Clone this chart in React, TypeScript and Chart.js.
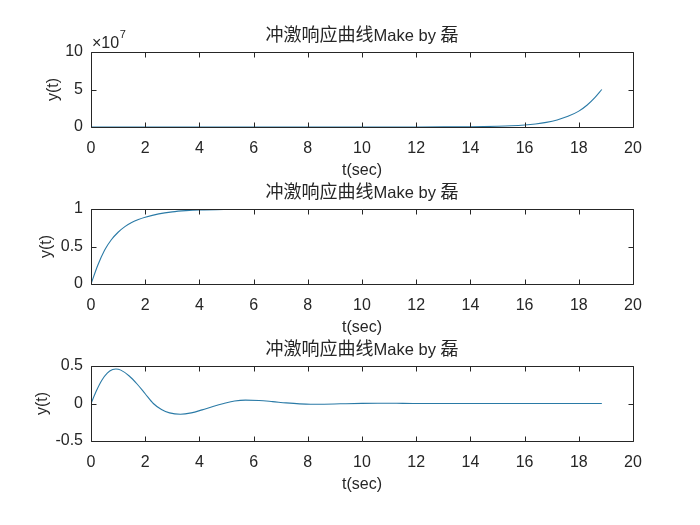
import React, { useEffect, useRef } from "react";
import { Chart, registerables } from "chart.js";

Chart.register(...registerables);

// ---- text ----
const TITLE_CJK = "冲激响应曲线";
const TITLE_LATIN = "Make by ";
const TITLE_END = "磊";
const X_LABEL = "t(sec)";
const Y_LABEL = "y(t)";
const EXP_BASE = "×10";
const EXP_POW = "7";

// ---- axes ----
const X_MIN = 0;
const X_MAX = 20;
const X_STEP = 2;

const Y1_TICKS = [0, 5e7, 1e8];
const Y2_TICKS = [0, 0.5, 1];
const Y3_TICKS = [-0.5, 0, 0.5];

// ---- series 1: growing response ----
const t1 = [0, 2, 4, 6, 8, 10, 11, 12, 13, 14, 14.5, 15, 15.5, 16, 16.4, 16.8, 17.2, 17.6, 18, 18.3, 18.6, 18.85];
const y1 = [0, 0, 0, 0, 1e3, 5e3, 1.4e4, 4e4, 1.2e5, 3.3e5, 5.6e5, 9.5e5, 1.6e6, 2.7e6, 4.1e6, 6.2e6, 9.4e6, 1.42e7, 2.12e7, 2.9e7, 3.95e7, 5.0e7];

// ---- series 2: first-order response ----
const t2 = [0, 0.25, 0.5, 0.75, 1, 1.25, 1.5, 1.75, 2, 2.5, 3, 3.5, 4, 5, 6, 8, 10, 14, 18.85];
const y2 = [0, 0.25, 0.45, 0.59, 0.69, 0.765, 0.82, 0.86, 0.89, 0.935, 0.962, 0.978, 0.988, 0.996, 0.999, 1, 1, 1, 1];

// ---- series 3: damped oscillation ----
const t3 = [0, 0.2, 0.4, 0.6, 0.8, 0.92, 1.1, 1.4, 1.7, 2.0, 2.3, 2.6, 2.9, 3.3, 3.7, 4.1, 4.5, 4.9, 5.3, 5.7, 6.2, 6.7, 7.2, 7.7, 8.1, 8.6, 9.2, 10, 10.6, 11.5, 12.5, 13.5, 15, 16.5, 18.85];
const y3 = [0, 0.17, 0.31, 0.405, 0.452, 0.46, 0.445, 0.37, 0.26, 0.13, 0.0, -0.08, -0.125, -0.143, -0.125, -0.085, -0.04, 0.0, 0.033, 0.045, 0.04, 0.025, 0.008, -0.005, -0.01, -0.009, -0.004, 0.002, 0.004, 0.002, -0.001, 0, 0, 0, 0];

const LINE_COLOR = "#2a7aa6";
const AXIS_COLOR = "#262626";
const LATIN_FONT = '"Liberation Sans", Arial, sans-serif';
const CJK_FONT = '"Noto Sans CJK SC", "Liberation Sans", sans-serif';

const CANVAS_W = 700;
const CANVAS_H = 200;

const axesPlugin = {
  id: "matlabAxes",
  afterDatasetsDraw(chart: any, _args: any, opts: any) {
    const { ctx, chartArea: a, scales } = chart;
    ctx.save();
    ctx.strokeStyle = AXIS_COLOR;
    ctx.lineWidth = 1;
    const L = Math.round(a.left) + 0.5;
    const R = Math.round(a.right) + 0.5;
    const T = Math.round(a.top) + 0.5;
    const B = Math.round(a.bottom) + 0.5;
    ctx.beginPath();
    ctx.rect(L, T, R - L, B - T);
    const tl = 5;
    scales.x.ticks.forEach((tk: any) => {
      const px = Math.round(scales.x.getPixelForValue(tk.value)) + 0.5;
      ctx.moveTo(px, T);
      ctx.lineTo(px, T + tl);
      ctx.moveTo(px, B);
      ctx.lineTo(px, B - tl);
    });
    scales.y.ticks.forEach((tk: any) => {
      const py = Math.round(scales.y.getPixelForValue(tk.value)) + 0.5;
      ctx.moveTo(L, py);
      ctx.lineTo(L + tl, py);
      ctx.moveTo(R, py);
      ctx.lineTo(R - tl, py);
    });
    ctx.stroke();

    ctx.fillStyle = AXIS_COLOR;
    // title
    const cx = (a.left + a.right) / 2;
    const ty = a.top - 11;
    ctx.textBaseline = "alphabetic";
    ctx.textAlign = "left";
    ctx.font = `18px ${CJK_FONT}`;
    const w1 = ctx.measureText(TITLE_CJK).width;
    const w3 = ctx.measureText(TITLE_END).width;
    ctx.font = `16.5px ${LATIN_FONT}`;
    const w2 = ctx.measureText(TITLE_LATIN).width;
    const x0 = cx - (w1 + w2 + w3) / 2;
    ctx.font = `18px ${CJK_FONT}`;
    ctx.fillText(TITLE_CJK, x0, ty);
    ctx.font = `16.5px ${LATIN_FONT}`;
    ctx.fillText(TITLE_LATIN, x0 + w1, ty);
    ctx.font = `18px ${CJK_FONT}`;
    ctx.fillText(TITLE_END, x0 + w1 + w2, ty);

    // x label
    ctx.font = `16px ${LATIN_FONT}`;
    ctx.textAlign = "center";
    ctx.fillText(X_LABEL, cx, a.bottom + 47.5);

    // y label
    ctx.save();
    ctx.translate(opts.yLabelX, (a.top + a.bottom) / 2);
    ctx.rotate(-Math.PI / 2);
    ctx.textAlign = "center";
    ctx.fillText(Y_LABEL, 0, 0);
    ctx.restore();

    // exponent
    if (opts && opts.exponent) {
      ctx.textAlign = "left";
      ctx.font = `16px ${LATIN_FONT}`;
      const ex = a.left + 1;
      ctx.fillText(EXP_BASE, ex, a.top - 3.7);
      const wb = ctx.measureText(EXP_BASE).width;
      ctx.font = `11px ${LATIN_FONT}`;
      ctx.fillText(EXP_POW, ex + wb + 0.5, a.top - 13.7);
    }
    ctx.restore();
  },
};

function makeConfig(ts: number[], ys: number[], yTicks: number[], exponent: boolean, scaleDiv: number, yLabelX: number): any {
  return {
    type: "line",
    data: {
      datasets: [
        {
          data: ts.map((t, i) => ({ x: t, y: ys[i] })),
          borderColor: LINE_COLOR,
          borderWidth: 1.1,
          pointRadius: 0,
          cubicInterpolationMode: "monotone",
          fill: false,
        },
      ],
    },
    options: {
      animation: false,
      responsive: false,
      devicePixelRatio: 1,
      layout: { padding: { left: 0, right: 67, top: 52, bottom: 0 } },
      plugins: {
        legend: { display: false },
        title: { display: false },
        tooltip: { enabled: false },
        matlabAxes: { exponent, yLabelX },
      },
      scales: {
        x: {
          type: "linear",
          min: X_MIN,
          max: X_MAX,
          grid: { display: false, drawTicks: false },
          border: { display: false },
          ticks: {
            stepSize: X_STEP,
            padding: 12,
            color: AXIS_COLOR,
            font: { family: LATIN_FONT, size: 16 },
            maxRotation: 0,
            autoSkip: false,
          },
          afterFit: (s: any) => {
            s.height = CANVAS_H - 127;
          },
        },
        y: {
          type: "linear",
          min: yTicks[0],
          max: yTicks[yTicks.length - 1],
          grid: { display: false, drawTicks: false },
          border: { display: false },
          afterBuildTicks: (s: any) => {
            s.ticks = yTicks.map((v) => ({ value: v }));
          },
          ticks: {
            padding: 8,
            color: AXIS_COLOR,
            font: { family: LATIN_FONT, size: 16 },
            callback: (v: any) => String(Math.round((Number(v) / scaleDiv) * 1000) / 1000),
          },
          afterFit: (s: any) => {
            s.width = 91;
          },
        },
      },
    },
    plugins: [axesPlugin],
  };
}

function SubPlot(props: { top: number; ts: number[]; ys: number[]; yTicks: number[]; exponent: boolean; scaleDiv: number; yLabelX: number }) {
  const ref = useRef<HTMLCanvasElement | null>(null);
  useEffect(() => {
    if (!ref.current) return;
    const chart = new Chart(ref.current, makeConfig(props.ts, props.ys, props.yTicks, props.exponent, props.scaleDiv, props.yLabelX));
    return () => chart.destroy();
  }, []);
  return (
    <canvas
      ref={ref}
      width={CANVAS_W}
      height={CANVAS_H}
      style={{ position: "absolute", left: 0, top: props.top, width: CANVAS_W, height: CANVAS_H }}
    />
  );
}

export default function App() {
  return (
    <div style={{ position: "fixed", left: 0, top: 0, width: 700, height: 525, background: "#ffffff", overflow: "hidden" }}>
      <SubPlot top={0} ts={t1} ys={y1} yTicks={Y1_TICKS} exponent={true} scaleDiv={1e7} yLabelX={57.5} />
      <SubPlot top={157} ts={t2} ys={y2} yTicks={Y2_TICKS} exponent={false} scaleDiv={1} yLabelX={51} />
      <SubPlot top={314} ts={t3} ys={y3} yTicks={Y3_TICKS} exponent={false} scaleDiv={1} yLabelX={47} />
    </div>
  );
}
